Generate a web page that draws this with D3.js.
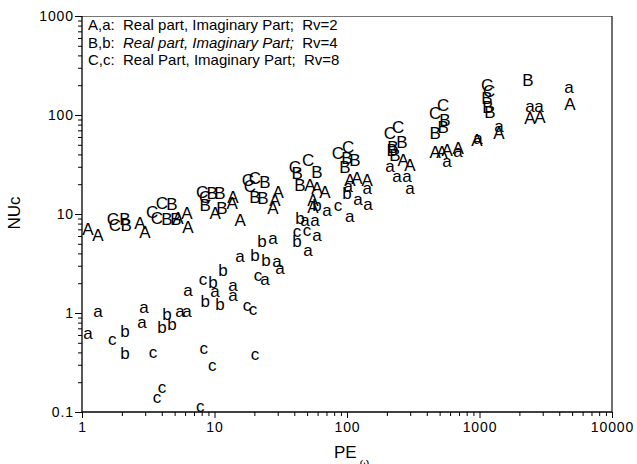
<!DOCTYPE html>
<html>
<head>
<meta charset="utf-8">
<script src="https://cdn.jsdelivr.net/npm/d3@7/dist/d3.min.js"></script>
<style>
  body { margin: 0; background: #fff; }
  svg { display: block; }
  text { font-family: "Liberation Sans", Arial, Helvetica, sans-serif; fill: #000; }
</style>
</head>
<body>
<svg id="chart_svg" width="637" height="464">
  <g id="g_frame"></g>
  <g id="g_x_axis"></g>
  <g id="g_y_axis"></g>
  <g id="g_points"></g>
  <g id="g_labels"></g>
</svg>
<script>
/**
 * Tick values and labels of the log axes.
 */
const xTicks = [1, 10, 100, 1000, 10000]
const xTickLabels = ["1", "10", "100", "1000", "10000"]
const yTicks = [0.1, 1, 10, 100, 1000]
const yTickLabels = ["0.1", "1", "10", "100", "1000"]

// [key, text, italic text, tail]
const legendLines = [
  ["A,a:  ", "Real part, Imaginary Part;", false, "  Rv=2"],
  ["B,b:  ", "Real part, Imaginary Part;", true, "  Rv=4"],
  ["C,c:  ", "Real Part, Imaginary Part;", false, "  Rv=8"],
]

/**
 * Real part, Rv=2 (A), Rv=4 (B), Rv=8 (C).  [PE, NUc]
 */
const series_A = [
  [1.11, 7.05], [1.32, 6.13], [2.74, 8.1], [2.99, 6.6], [5.3, 9.1], [6.2, 10.2],
  [6.3, 7.4], [10.1, 10.2], [13.6, 12.9], [13.8, 14.9], [15.6, 8.7], [30.2, 16.7],
  [28.6, 13.8], [27.6, 11.5], [52.6, 19.6], [59.4, 18.3], [68.2, 16.7], [55.4, 13.8],
  [55.4, 11.8], [105, 22.1], [119, 23.1], [142, 22.1], [265, 35.1], [299, 31.3],
  [462, 42.3], [521, 42.3], [569, 44.3], [689, 46.4], [958, 55.9], [1404, 65.8],
  [2405, 93.3], [2862, 95.5], [4822, 129],
]
const series_B = [
  [2.11, 8.9], [2.15, 7.7], [4.78, 12.6], [4.38, 8.9], [5.12, 8.9], [9.6, 16.3],
  [11.0, 16.3], [8.5, 12.3], [11.4, 11.5], [24.0, 21.0], [20.2, 14.9], [23.2, 14.5],
  [42.0, 26.0], [44.2, 19.6], [59.4, 26.6], [100, 36.8], [115, 35.1], [96.6, 29.8],
  [222, 47.5], [230, 39.5], [260, 53.4], [219, 44.3], [549, 89.0], [531, 75.6],
  [462, 65.8], [1140, 148], [1159, 120], [1200, 107], [2323, 226],
]
const series_C = [
  [1.71, 8.9], [1.77, 7.7], [3.38, 10.5], [3.68, 9.1], [4.01, 12.9], [8.05, 16.7],
  [8.5, 14.9], [17.9, 22.1], [20.2, 23.1], [18.5, 19.2], [40.5, 29.8], [50.8, 35.1],
  [85.5, 41.3], [102, 47.5], [211, 65.8], [243, 75.6], [462, 105], [531, 126],
  [1140, 201], [1180, 175],
]

/**
 * Imaginary part, Rv=2 (a), Rv=4 (b), Rv=8 (c).  [PE, NUc]
 */
const series_a = [
  [1.32, 1.0], [1.11, 0.60], [2.94, 1.12], [2.84, 0.79], [5.49, 1.0], [6.2, 1.0],
  [6.3, 1.63], [10.1, 1.59], [13.8, 1.83], [13.8, 1.45], [15.6, 3.59], [27.6, 5.46],
  [29.6, 3.2], [31.2, 2.72], [24.0, 2.15], [48.2, 8.3], [57.3, 8.3], [59.4, 5.86],
  [50.8, 4.13], [70.6, 10.5], [105, 9.1], [102, 18.3], [121, 13.8], [144, 12.3],
  [142, 17.5], [211, 29.1], [238, 23.6], [284, 23.1], [299, 17.5], [569, 32.7],
  [689, 41.3], [975, 55.9], [1404, 73.9], [2405, 117.8], [2812, 117.8], [4735, 187],
]
const series_b = [
  [2.11, 0.63], [2.11, 0.38], [4.38, 0.95], [4.01, 0.70], [4.78, 0.74], [8.5, 1.26],
  [11.0, 1.20], [9.75, 1.96], [11.6, 2.6], [20.2, 3.68], [24.5, 3.27], [22.8, 5.1],
  [44.2, 8.7], [42.0, 5.1], [59.4, 11.8], [100, 15.6],
]
const series_c = [
  [1.69, 0.53], [3.43, 0.39], [3.68, 0.138], [4.01, 0.171], [7.8, 0.110], [8.3, 0.43],
  [9.6, 0.29], [17.6, 1.15], [19.5, 1.07], [20.2, 0.37], [8.2, 2.15], [21.3, 2.31],
  [42.0, 6.43], [49.9, 6.6], [85.5, 11.8],
]

const markerSeries = [
  { letter: "a", points: series_a },
  { letter: "b", points: series_b },
  { letter: "c", points: series_c },
  { letter: "A", points: series_A },
  { letter: "B", points: series_B },
  { letter: "C", points: series_C },
]

/**
 * Margins of the visualization.
 */
const margin = { top: 16, bottom: 52, left: 82, right: 25 }

let svg = d3.select("#chart_svg")
let width = parseInt(svg.attr("width"))
let height = parseInt(svg.attr("height"))
let innerW = width - margin.left - margin.right
let innerH = height - margin.top - margin.bottom

const xScale = d3.scaleLog().domain([1, 10000]).range([0, innerW])
const yScale = d3.scaleLog().domain([0.1, 1000]).range([innerH, 0])

// minor ticks 2..9 of every decade
const xMinor = []
xTicks.slice(0, -1).forEach(d => { for (let k = 2; k < 10; k++) xMinor.push(d * k) })
const yMinor = []
yTicks.slice(0, -1).forEach(d => { for (let k = 2; k < 10; k++) yMinor.push(d * k) })

/**
 * Axes
 */
let g_x_axis = d3.select("#g_x_axis")
  .attr("transform", "translate(" + margin.left + "," + (margin.top + innerH) + ")")

g_x_axis.append("g")
  .call(d3.axisBottom(xScale).tickValues(xMinor).tickSize(4).tickFormat(""))
g_x_axis.append("g")
  .call(d3.axisBottom(xScale).tickValues(xTicks).tickSize(6).tickPadding(4)
    .tickFormat((d, i) => xTickLabels[i]))

let g_y_axis = d3.select("#g_y_axis")
  .attr("transform", "translate(" + margin.left + "," + margin.top + ")")

g_y_axis.append("g")
  .call(d3.axisLeft(yScale).tickValues(yMinor).tickSize(4).tickFormat(""))
g_y_axis.append("g")
  .call(d3.axisLeft(yScale).tickValues(yTicks).tickSize(7).tickPadding(1)
    .tickFormat((d, i) => yTickLabels[i]))

svg.selectAll(".domain").remove()
svg.selectAll(".tick line").attr("stroke", "#000")
svg.selectAll(".tick text")
  .attr("font-family", "Liberation Sans, Arial, sans-serif")
  .attr("font-size", 14)
  .attr("letter-spacing", "0.9px")

/**
 * Plot frame
 */
let g_frame = d3.select("#g_frame")
g_frame.append("line")
  .attr("x1", margin.left).attr("x2", margin.left + innerW)
  .attr("y1", margin.top + 0.5).attr("y2", margin.top + 0.5)
  .attr("stroke", "#777").attr("stroke-width", 1.2)
g_frame.append("line")
  .attr("x1", margin.left + innerW).attr("x2", margin.left + innerW)
  .attr("y1", margin.top).attr("y2", margin.top + innerH)
  .attr("stroke", "#222").attr("stroke-width", 1.3)
g_frame.append("line")
  .attr("x1", margin.left).attr("x2", margin.left)
  .attr("y1", margin.top).attr("y2", margin.top + innerH)
  .attr("stroke", "#000").attr("stroke-width", 1.3)
g_frame.append("line")
  .attr("x1", margin.left).attr("x2", margin.left + innerW)
  .attr("y1", margin.top + innerH).attr("y2", margin.top + innerH)
  .attr("stroke", "#000").attr("stroke-width", 1.3)

/**
 * Letter markers
 */
const markerSize = 17
let g_points = d3.select("#g_points")
  .attr("transform", "translate(" + margin.left + "," + margin.top + ")")

markerSeries.forEach(s => {
  const upper = s.letter === s.letter.toUpperCase()
  g_points.selectAll(".m_" + s.letter)
    .data(s.points)
    .enter()
    .append("text")
    .attr("class", "m_" + s.letter)
    .attr("x", d => xScale(d[0]))
    .attr("y", d => yScale(d[1]) + markerSize * (upper ? 0.36 : 0.26))
    .attr("text-anchor", "middle")
    .attr("font-size", markerSize)
    .text(s.letter)
})

/**
 * Legend and axis titles
 */
let g_labels = d3.select("#g_labels")

legendLines.forEach((l, i) => {
  let t = g_labels.append("text")
    .attr("x", 88)
    .attr("y", 30 + i * 17.5)
    .attr("font-size", 15)
    .attr("xml:space", "preserve")
  t.append("tspan").text(l[0])
  t.append("tspan").attr("font-style", l[2] ? "italic" : "normal").text(l[1])
  t.append("tspan").text(l[3])
})

g_labels.append("text")
  .attr("transform", "translate(20," + (margin.top + yScale(10) - 1) + ") rotate(-90)")
  .attr("text-anchor", "middle")
  .attr("font-size", 17)
  .text("NUc")

let xTitle = g_labels.append("text")
  .attr("x", 334)
  .attr("y", 458)
  .attr("font-size", 17)
xTitle.append("tspan").text("PE")
xTitle.append("tspan").attr("dx", 3).attr("dy", 9).attr("font-size", 12).text("ω")
</script>
</body>
</html>
